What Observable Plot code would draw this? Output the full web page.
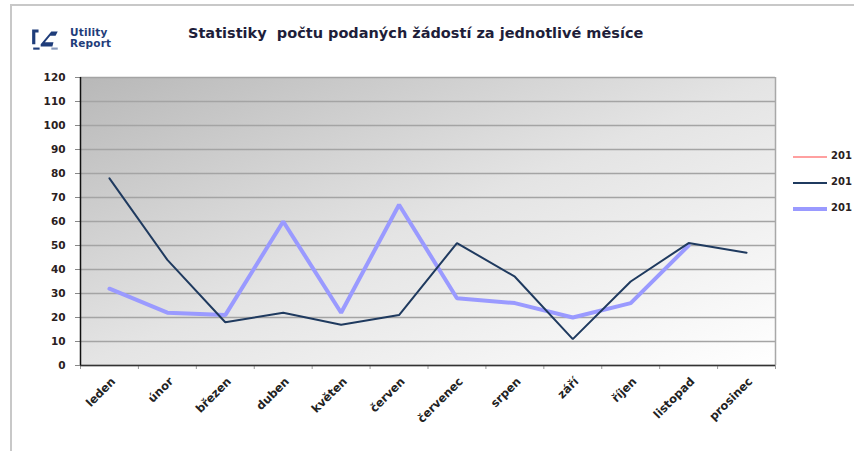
<!DOCTYPE html>
<html><head><meta charset="utf-8">
<script src="https://cdn.jsdelivr.net/npm/d3@7"></script>
<script src="https://cdn.jsdelivr.net/npm/@observablehq/plot@0.6"></script>
<style>
body{margin:0;background:#fff;}
#wrap{position:relative;width:854px;height:451px;overflow:hidden;font-family:"DejaVu Sans",sans-serif;}
#frameTop{position:absolute;left:10px;top:4px;width:850px;height:2px;background:#c8c8c8;}
#frameLeft{position:absolute;left:10px;top:4px;width:2px;height:460px;background:#c8c8c8;}
#chart{position:absolute;left:0;top:0;}
#logo{position:absolute;left:30px;top:26px;width:95px;height:28px;}
#logoText{position:absolute;left:40px;top:1px;font:bold 10.5px/11px "DejaVu Sans",sans-serif;color:#1f3d7a;letter-spacing:0.2px;}
#title{position:absolute;left:188px;top:25px;font:bold 14.5px "DejaVu Sans",sans-serif;color:#1e1e3a;white-space:pre;}
.lg{position:absolute;left:793px;width:34px;}
.lgt{position:absolute;left:831px;font:bold 10px "DejaVu Sans",sans-serif;color:#2a2020;white-space:nowrap;}
</style></head><body>
<div id="wrap">
 <div id="frameTop"></div><div id="frameLeft"></div>
 <div id="logo">
  <svg width="32" height="26" viewBox="0 0 30 24">
   <path d="M2 3 H8 V6 H5 V17 H2 Z" fill="#1f3d7a"/>
   <path d="M10 17 L20 5 L26 5 L24 9 L19 9 L14 15 L22 15 L21 19 L10 19 Z" fill="#1f3d7a"/>
   <path d="M3 20 H9 V22 H3 Z" fill="#1f3d7a"/>
   <path d="M20 20 H26 V22 H20 Z" fill="#8899bb"/>
  </svg>
  <div id="logoText">Utility<br>Report</div>
 </div>
 <div id="title">Statistiky  počtu podaných žádostí za jednotlivé měsíce</div>
 <div id="chart"></div>
 <div id="legend"></div>
</div>
<script>
const months = ["leden","únor","březen","duben","květen","červen","červenec","srpen","září","říjen","listopad","prosinec"];
const seriesNames = ["201","201","201"];
const seriesColors = ["#ffa0a0","#1f3a5f","#9a9aff"];
const values2011 = [];
const values2012 = [78,44,18,22,17,21,51,37,11,35,51,47];
const values2013 = [32,22,21,60,22,67,28,26,20,26,50];
const yTicks = d3.range(0,121,10);

const rows2012 = values2012.map((v,i)=>({i, v}));
const rows2013 = values2013.map((v,i)=>({i, v}));
const rows2011 = values2011.map((v,i)=>({i, v}));

const svg = Plot.plot({
  width: 854, height: 451,
  marginLeft: 80, marginRight: 79, marginTop: 77, marginBottom: 86,
  style: {background:"transparent", color:"#2a2020", overflow:"visible"},
  x: {domain:[0,12], axis:null, label:null},
  y: {domain:[0,120], axis:null, label:null},
  marks: [
    Plot.frame({fill:"#d0d0d0", stroke:"none"}),
    Plot.gridY(yTicks, {stroke:"#a4a4a4", strokeOpacity:1, strokeWidth:1.5}),
    Plot.ruleX([12], {stroke:"#a8a8a8", strokeWidth:1.5}),
    Plot.axisY({ticks:yTicks, label:null, tickSize:5, tickPadding:10, fontWeight:"bold", fontSize:10.5, fontFamily:"DejaVu Sans", stroke:"#888"}),
    Plot.axisX({ticks:d3.range(13), label:null, tickSize:4, tickFormat:()=>"", stroke:"#999"}),
    Plot.text(months, {x:(d,i)=>i+0.5, y:0, text:d=>d, rotate:-45, textAnchor:"end", dx:4, dy:14, fontWeight:"bold", fontSize:11.5, fontFamily:"DejaVu Sans", fill:"#222"}),
    Plot.ruleY([0], {stroke:"#333", strokeWidth:1.5}),
    Plot.ruleX([0], {stroke:"#111", strokeWidth:1.5}),
    Plot.line(rows2011, {x:d=>d.i+0.5, y:"v", stroke:seriesColors[0], strokeWidth:1}),
    Plot.line(rows2013, {x:d=>d.i+0.5, y:"v", stroke:seriesColors[2], strokeWidth:4, strokeLinejoin:"miter"}),
    Plot.line(rows2012, {x:d=>d.i+0.5, y:"v", stroke:seriesColors[1], strokeWidth:2, strokeLinejoin:"miter"})
  ]
});
// gradient fill for plot area
const ns = "http://www.w3.org/2000/svg";
const defs = document.createElementNS(ns,"defs");
defs.innerHTML = '<linearGradient id="bgGrad" x1="0" y1="0" x2="1" y2="1"><stop offset="0" stop-color="#b8b8b8"/><stop offset="0.5" stop-color="#e4e4e4"/><stop offset="1" stop-color="#ffffff"/></linearGradient>';
svg.insertBefore(defs, svg.firstChild);
let fr = svg.querySelector('[aria-label="frame"]');
if (fr) { const r = fr.tagName.toLowerCase()==="rect" ? fr : fr.querySelector("rect"); if (r) r.setAttribute("fill","url(#bgGrad)"); }
document.getElementById("chart").appendChild(svg);

// legend
const lg = document.getElementById("legend");
const lgY = [157,183,209], lgW = [1.5,2.5,4];
seriesNames.forEach((n,k)=>{
  const l = document.createElement("div");
  l.className="lg"; l.style.top=(lgY[k]-lgW[k]/2)+"px"; l.style.height=lgW[k]+"px"; l.style.background=seriesColors[k];
  lg.appendChild(l);
  const t = document.createElement("div");
  t.className="lgt"; t.style.top=(lgY[k]-7)+"px"; t.textContent=n;
  lg.appendChild(t);
});
</script>
</body></html>
